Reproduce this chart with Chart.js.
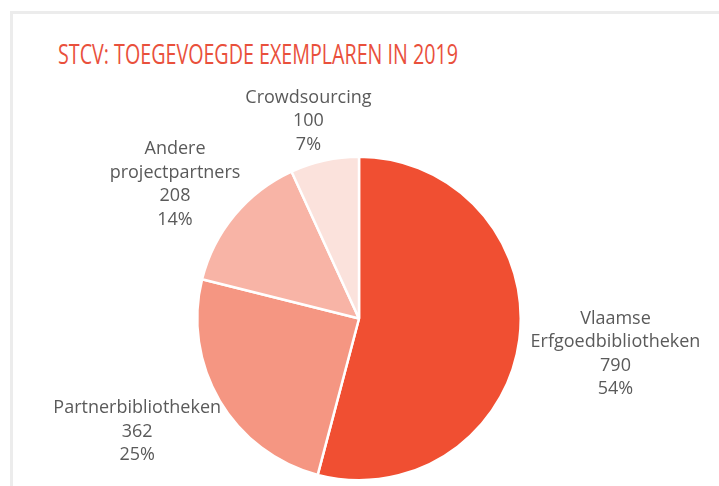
<!DOCTYPE html>
<html>
<head>
<meta charset="utf-8">
<script src="https://cdn.jsdelivr.net/npm/chart.js@4.4.0/dist/chart.umd.min.js"></script>
<style>
  html, body { margin: 0; padding: 0; background: #fff; }
  #wrap { position: relative; width: 719px; height: 486px; overflow: hidden; }
  #frame { position: absolute; left: 10px; top: 11px; width: 760px; height: 520px;
           border-left: 3px solid #ececec; border-top: 3px solid #ececec; }
  #title { position: absolute; left: 58px; top: 34px; margin: 0;
           font: 400 28px "Open Sans", sans-serif; color: #e9503c;
           white-space: nowrap; transform-origin: 0 0; }
  canvas { position: absolute; left: 0; top: 0; }
</style>
</head>
<body>
<div id="wrap">
  <div id="frame"></div>
  <h1 id="title">STCV: TOEGEVOEGDE EXEMPLAREN IN 2019</h1>
  <canvas id="chart" width="719" height="486"></canvas>
</div>
<script>
// data
const labels = [['Vlaamse', 'Erfgoedbibliotheken'], ['Partnerbibliotheken'], ['Andere', 'projectpartners'], ['Crowdsourcing']];
const values = [790, 362, 208, 100];
const colors = ['#f04f32', '#f59682', '#f8b4a6', '#fbe2dc'];

// titel iets smaller maken zoals in het origineel
const title = document.getElementById('title');
title.style.transform = 'scaleX(' + (400 / title.offsetWidth) + ')';

const total = values.reduce((a, b) => a + b, 0);

// labels buiten de taart tekenen
const outsideLabels = {
  id: 'outsideLabels',
  afterDatasetsDraw(chart) {
    const ctx = chart.ctx;
    const meta = chart.getDatasetMeta(0);
    const lineH = 23.5;
    const pad = 12;
    ctx.save();
    ctx.font = '18px "Open Sans", sans-serif';
    ctx.fillStyle = '#5a5a5a';
    ctx.textAlign = 'center';
    ctx.textBaseline = 'middle';
    meta.data.forEach((arc, i) => {
      const mid = (arc.startAngle + arc.endAngle) / 2;
      const ux = Math.cos(mid), uy = Math.sin(mid);
      const lines = labels[i].concat([String(values[i]), Math.round(values[i] / total * 100) + '%']);
      const w = Math.max(...lines.map(l => ctx.measureText(l).width));
      const h = lines.length * lineH;
      const cx = arc.x + (arc.outerRadius + pad) * ux + ux * w / 2;
      const cy = arc.y + (arc.outerRadius + pad) * uy + uy * h / 2 + 7;
      lines.forEach((l, j) => {
        ctx.fillText(l, cx, cy - h / 2 + lineH * (j + 0.5));
      });
    });
    ctx.restore();
  }
};

new Chart(document.getElementById('chart'), {
  type: 'pie',
  data: {
    labels: labels,
    datasets: [{
      data: values,
      backgroundColor: colors,
      borderColor: '#ffffff',
      borderWidth: 2.5
    }]
  },
  options: {
    responsive: false,
    animation: false,
    layout: { padding: { left: 196, right: 197, top: 155, bottom: 4 } },
    plugins: {
      legend: { display: false },
      tooltip: { enabled: false }
    }
  },
  plugins: [outsideLabels]
});
</script>
</body>
</html>
